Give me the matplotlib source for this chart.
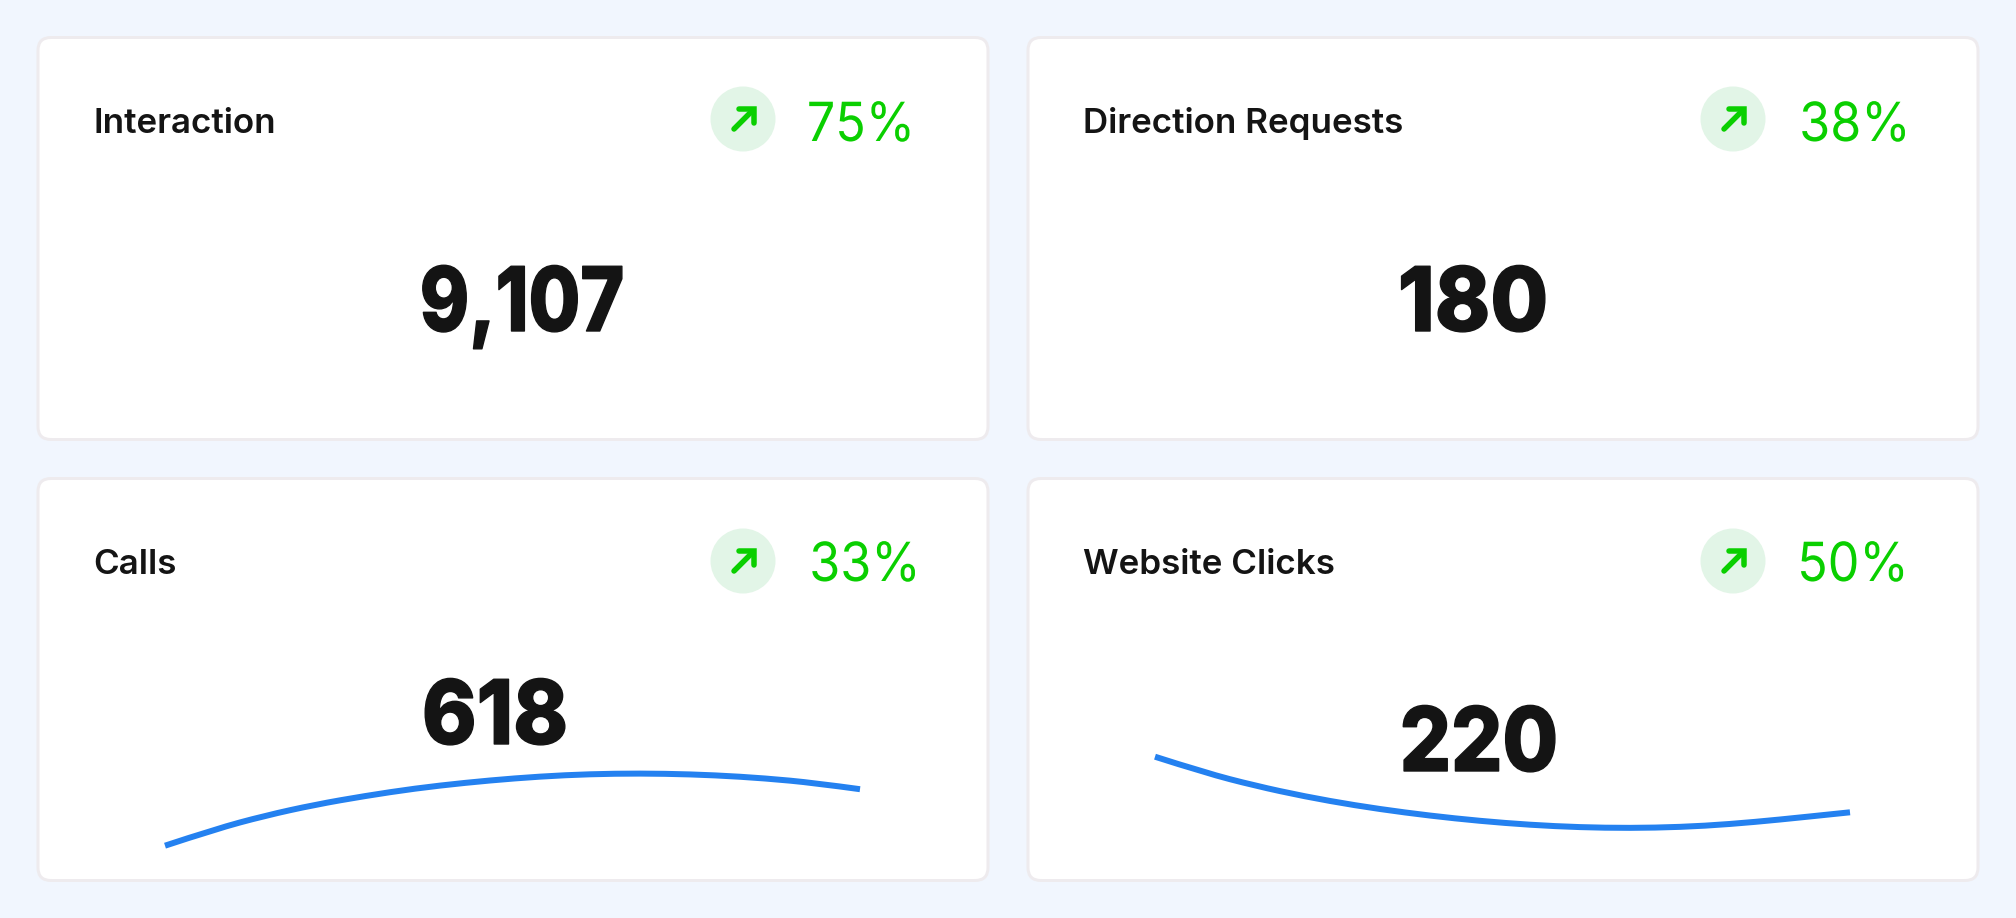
"""KPI cards: four metrics with change badges and two sparklines."""

import matplotlib
matplotlib.use("Agg")
import matplotlib.pyplot as plt
from matplotlib.patches import Circle, FancyBboxPatch, PathPatch
from matplotlib.path import Path
from matplotlib.patheffects import AbstractPathEffect
from matplotlib.transforms import Affine2D

# ── Data ──────────────────────────────────────────────────────────────────────
TITLES = ["Interaction", "Direction Requests", "Calls", "Website Clicks"]
VALUES = [9107, 180, 618, 220]
CHANGES = [75, 38, 33, 50]

SPARK_X = [0, 50, 100, 150, 200, 250, 300, 350, 400, 450, 500, 550, 600, 650, 695]
CALLS_Y = [4.3, 20.8, 34.3, 45.3, 54.05, 61.55, 67.25, 71.75, 74.95, 76.45, 76.35,
           74.8, 71.7, 67.0, 60.8]
CLICKS_Y = [93.3, 77.3, 64.3, 53.5, 44.6, 37.4, 31.5, 26.9, 23.7, 22.1, 22.2, 24.1,
            28.0, 33.0, 37.7]

# ── Layout (pixels) ───────────────────────────────────────────────────────────
W, H = 2016, 918
CARD_W, CARD_H = 950, 402
CARD_XY = [(38, 37.5), (1028, 37.5), (38, 478.5), (1028, 478.5)]
TITLE_XY = [(93, 133), (1083, 133), (93, 574), (1083, 574)]
VALUE_XY = [(522, 331), (1473, 331), (495, 744), (1479, 771)]
VALUE_SQUEEZE = [0.84, 0.94, 0.93, 0.905]  # reference has tight tracking
BADGE_XY = [(743, 119), (1733, 119), (743, 561), (1733, 561)]
PCT_XY = [(861, 141), (1855, 141), (865, 581), (1853, 581)]
FONT = "Inter"
px = 0.72  # px -> pt at dpi 100

BG = "#F1F6FE"
BORDER = "#EEEBEE"
INK = "#141414"
GREEN = "#0ACF00"
BADGE = "#E2F5E7"
BLUE = "#2481F0"


class Squeeze(AbstractPathEffect):
    """Narrow a text horizontally around its centre, optionally thickening it."""

    def __init__(self, cx, sx, stroke=0.0):
        super().__init__()
        self.cx, self.sx, self.stroke = cx, sx, stroke

    def draw_path(self, renderer, gc, tpath, affine, rgbFace=None):
        squeeze = Affine2D().translate(-self.cx, 0).scale(self.sx, 1).translate(self.cx, 0)
        gc0 = renderer.new_gc()
        gc0.copy_properties(gc)
        if self.stroke:
            gc0.set_foreground(rgbFace)
            gc0.set_linewidth(self.stroke)
        renderer.draw_path(gc0, tpath, affine + squeeze, rgbFace)
        gc0.restore()


def smooth_path(xs, ys):
    # quadratic segments through midpoints, as the chart's smoothed line
    pts = list(zip(xs, ys))
    verts, codes = [pts[0]], [Path.MOVETO]
    for a, b in zip(pts[1:-2], pts[2:-1]):
        verts += [a, ((a[0] + b[0]) / 2, (a[1] + b[1]) / 2)]
        codes += [Path.CURVE3, Path.CURVE3]
    verts += [pts[-2], pts[-1]]
    codes += [Path.CURVE3, Path.CURVE3]
    return Path(verts, codes)


fig = plt.figure(figsize=(W / 100, H / 100), dpi=100, facecolor=BG)
ax = fig.add_axes([0, 0, 1, 1])
ax.set_xlim(0, W)
ax.set_ylim(H, 0)
ax.axis("off")

for i, title in enumerate(TITLES):
    x, y = CARD_XY[i]
    ax.add_patch(FancyBboxPatch((x, y), CARD_W, CARD_H,
                                boxstyle="round,pad=0,rounding_size=13",
                                fc="white", ec=BORDER, lw=3 * px))
    ax.text(*TITLE_XY[i], title, family=FONT, fontsize=35 * px, fontweight="semibold",
            color=INK, ha="left", va="baseline")
    ax.text(*VALUE_XY[i], f"{VALUES[i]:,}", family=FONT, fontsize=89 * px,
            fontweight=800, color=INK, ha="center", va="baseline",
            path_effects=[Squeeze(VALUE_XY[i][0], VALUE_SQUEEZE[i], stroke=1.0)])
    ax.text(*PCT_XY[i], f"{CHANGES[i]}%", family=FONT, fontsize=54 * px,
            fontweight="normal", color=GREEN, ha="center", va="baseline",
            path_effects=[Squeeze(PCT_XY[i][0], 0.93)])

    # change badge with arrow
    cx, cy = BADGE_XY[i]
    ax.add_patch(Circle((cx, cy), 32.5, fc=BADGE, ec="none"))
    ax.plot([cx - 9, cx + 10], [cy + 10, cy - 9], color=GREEN, lw=5.5 * px,
            solid_capstyle="round")
    ax.plot([cx - 4, cx + 11, cx + 11], [cy - 10, cy - 10, cy + 4], color=GREEN,
            lw=5.5 * px, solid_capstyle="round", solid_joinstyle="miter")

# sparklines
for x0, series in [(165, CALLS_Y), (1155, CLICKS_Y)]:
    spark = fig.add_axes([x0 / W, (H - 850) / H, 695 / W, 100 / H])
    spark.set_xlim(0, 695)
    spark.set_ylim(0, 100)
    spark.axis("off")
    spark.patch.set_alpha(0)
    spark.add_patch(PathPatch(smooth_path(SPARK_X, series), fc="none", ec=BLUE,
                              lw=6 * px, capstyle="butt", joinstyle="round",
                              clip_on=False))

fig.savefig("out.png", dpi=100, facecolor=BG)
plt.close(fig)
